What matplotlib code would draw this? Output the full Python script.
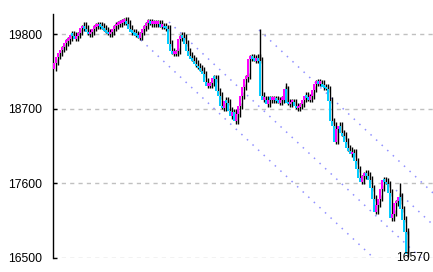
"""
Tick chart recreation: candles (magenta up / cyan down) with dotted trend channel
"""

import numpy as np
import matplotlib.pyplot as plt

# close prices, one bar every ~2px in the reference
closes = [
    19390, 19480, 19530, 19580, 19620, 19680, 19710, 19740, 19800, 19790,
    19740, 19790, 19830, 19900, 19930, 19890, 19840, 19810, 19840, 19890,
    19920, 19930, 19930, 19920, 19890, 19860, 19830, 19810, 19840, 19890,
    19930, 19950, 19960, 19980, 19990, 20010, 19960, 19890, 19840, 19830,
    19800, 19790, 19760, 19830, 19890, 19930, 19980, 19980, 19960, 19960,
    19960, 19960, 19960, 19920, 19920, 19900, 19890, 19670, 19560, 19520,
    19520, 19560, 19740, 19790, 19760, 19670, 19560, 19490, 19450, 19420,
    19370, 19340, 19310, 19270, 19220, 19110, 19050, 19050, 19090, 19160,
    19150, 18970, 18900, 18750, 18720, 18830, 18800, 18680, 18600, 18660,
    18530, 18630, 18750, 18900, 19030, 19150, 19180, 19450, 19460, 19450,
    19420, 19460, 19420, 18900, 18850, 18850, 18780, 18850, 18840, 18840,
    18850, 18830, 18800, 18840, 18850, 19000, 18800, 18780, 18810, 18810,
    18750, 18720, 18740, 18780, 18850, 18900, 18870, 18850, 18900, 18990,
    19080, 19090, 19080, 19080, 19030, 19020, 19000, 18830, 18530, 18460,
    18230, 18410, 18460, 18350, 18310, 18230, 18130, 18090, 18040, 18060,
    17940, 17820, 17690, 17640, 17720, 17760, 17720, 17670, 17540, 17390,
    17200, 17300, 17390, 17530, 17660, 17640, 17600, 17470, 17100, 17170,
    17320, 17350, 17420, 17230, 17080, 16900, 16570,
]
first_open = 19300

# a few long wicks that stick out of the bodies
wick_idx = [102, 115, 172, 176]
wick_hi = [19870, 19080, 17600, 16900]
wick_lo = [19420, 18800, 17350, 16560]

# dotted trend lines: start bar, start price (all share one slope)
trend_start_idx = [43.5, 57.5, 102.5, 171]
trend_start_price = [19711, 19977, 19860, 17500]
trend_slope = -27.6  # price per bar

yticks = [16500, 17600, 18700, 19800]

CYAN = "#00ccff"
MAGENTA = "#ff00ff"
TREND = "#9090ff"
GRID = "#c0c0c0"

plt.rcParams["font.family"] = ["Liberation Sans Narrow", "Liberation Sans", "DejaVu Sans"]


def draw_chart():
    fig = plt.figure(figsize=(4.33, 2.72), dpi=100)
    ax = fig.add_axes([53 / 433, 14 / 272, 380 / 433, 244 / 272])

    n = len(closes)
    x = np.arange(n)
    c = np.array(closes, dtype=float)
    o = np.concatenate([[first_open], c[:-1]])
    lo = np.minimum(o, c)
    hi = np.maximum(o, c)

    # grid first
    for t in yticks:
        ax.axhline(t, color=GRID, lw=1.0, dashes=(3, 3), zorder=0)

    # trend channel
    for si, sp in zip(trend_start_idx, trend_start_price):
        xs = np.array([si, 200])
        ax.plot(xs, sp + trend_slope * (xs - si), color=TREND, lw=1.1,
                linestyle=(0, (1, 4)), zorder=1)

    # black shadow lines
    ax.vlines(x + 0.8, lo - 50, hi + 40, color="black", lw=1.0, zorder=2)
    ax.vlines(np.array(wick_idx) + 0.8, wick_lo, wick_hi, color="black", lw=1.0, zorder=2)

    # bodies (magenta = up, cyan = down)
    colors = [MAGENTA if cc >= oo else CYAN for oo, cc in zip(o, c)]
    heights = np.maximum(hi - lo, 40)
    ax.bar(x - 0.05, heights, bottom=lo - 15, width=1.3, color=colors,
           linewidth=0, zorder=3)

    ax.set_xlim(-0.5, 189.5)
    ax.set_ylim(16500, 20095)

    ax.set_yticks(yticks)
    ax.set_yticklabels([str(t) for t in yticks])
    ax.set_xticks([])
    for side in ["top", "right", "bottom"]:
        ax.spines[side].set_visible(False)
    ax.spines["left"].set_linewidth(1.0)
    ax.tick_params(axis="y", direction="in", length=3, width=1.0, pad=8,
                   labelsize=8.8, colors="black")

    # last price label
    ax.text(n - 1 + 3.5, 16500, str(closes[-1]), fontsize=8.8, ha="center",
            va="center", clip_on=False, zorder=5)

    fig.savefig("out.png", dpi=100)


if __name__ == "__main__":
    draw_chart()
